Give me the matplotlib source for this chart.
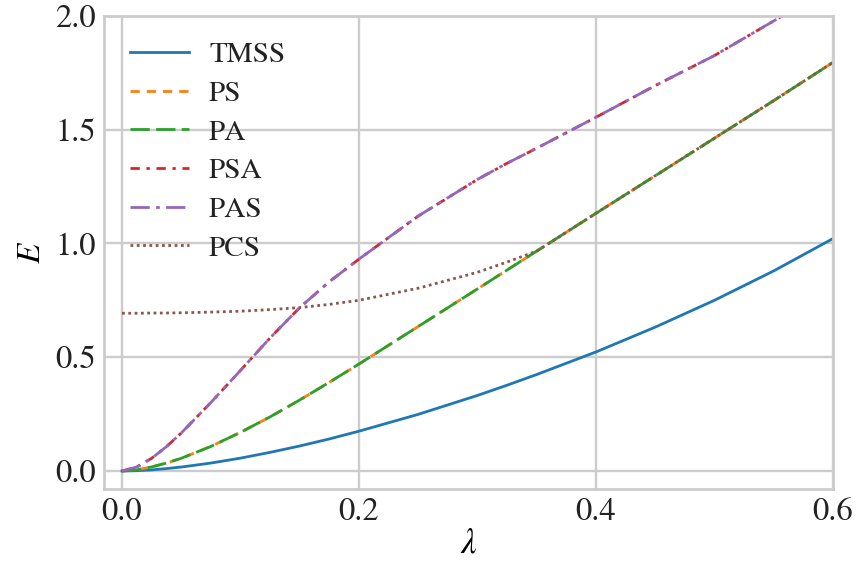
import numpy as np
import matplotlib
matplotlib.use("Agg")
import matplotlib.pyplot as plt

plt.rcParams['font.family'] = ['STIXGeneral', 'Liberation Serif', 'DejaVu Serif']
plt.rcParams['mathtext.fontset'] = 'stix'

# squeezing parameter grid and entanglement values per state
lam = [0.0, 0.0125, 0.025, 0.0375, 0.05, 0.075, 0.1, 0.125, 0.15, 0.175, 0.2, 0.25,
       0.3, 0.325, 0.35, 0.4, 0.45, 0.5, 0.55, 0.6]

E_tmss = [0.0, 0.0015, 0.005, 0.0107, 0.0175, 0.035, 0.0566, 0.082, 0.110, 0.141,
          0.175, 0.249, 0.332, 0.377, 0.424, 0.523, 0.632, 0.750, 0.879, 1.021]
E_ps = [0.0, 0.0052, 0.018, 0.035, 0.056, 0.108, 0.170, 0.238, 0.312, 0.390,
        0.470, 0.635, 0.800, 0.883, 0.966, 1.132, 1.297, 1.462, 1.627, 1.795]
E_pa = list(E_ps)
E_psa = [0.0, 0.018, 0.056, 0.107, 0.167, 0.301, 0.442, 0.585, 0.718, 0.832,
         0.931, 1.120, 1.281, 1.352, 1.418, 1.554, 1.693, 1.825, 1.977, 2.13]
E_pas = list(E_psa)
E_pcs = [0.693, 0.693, 0.694, 0.694, 0.695, 0.698, 0.702, 0.709, 0.718, 0.732,
         0.750, 0.803, 0.873, 0.918, 0.966, 1.132, 1.297, 1.462, 1.627, 1.795]

labels = ['TMSS', 'PS', 'PA', 'PSA', 'PAS', 'PCS']
colors = ['#1f77b4', '#ff7f0e', '#2ca02c', '#d62728', '#9467bd', '#8c564b']
styles = ['-',
          (0, (3.35, 2.5)),
          (0, (6.95, 2.27)),
          (0, (3.35, 2.4, 1.2, 2.4)),
          (0, (6.95, 2.27, 1.33, 2.27)),
          (0, (1.0, 1.27))]

fig = plt.figure(figsize=(8.59, 5.71), dpi=100)
ax = fig.add_axes([0.1211, 0.1436, 0.8486, 0.8289])

for y, lab, c, ls in zip([E_tmss, E_ps, E_pa, E_psa, E_pas, E_pcs], labels, colors, styles):
    ax.plot(lam, y, color=c, linestyle=ls, linewidth=2.0, label=lab)

ax.set_xlim(-0.0152, 0.6)
ax.set_ylim(-0.079, 2.0)
ax.set_xticks([0.0, 0.2, 0.4, 0.6])
ax.set_yticks([0.0, 0.5, 1.0, 1.5, 2.0])
ax.grid(True, color='#cccccc', linewidth=1.7)
ax.set_axisbelow(True)
for s in ax.spines.values():
    s.set_color('#cccccc')
    s.set_linewidth(2.0)
ax.tick_params(length=0, labelsize=23.5, pad=6, labelcolor='#222222')

ax.set_xlabel(r'$\lambda$', fontsize=25, labelpad=1)
ax.set_ylabel(r'$E$', fontsize=24, labelpad=6)

leg = ax.legend(loc='upper left', frameon=False, fontsize=21, handlelength=2.0,
                labelspacing=0.42, handletextpad=0.7)
for t in leg.get_texts():
    t.set_color('#222222')

fig.savefig('out.png', dpi=100)
